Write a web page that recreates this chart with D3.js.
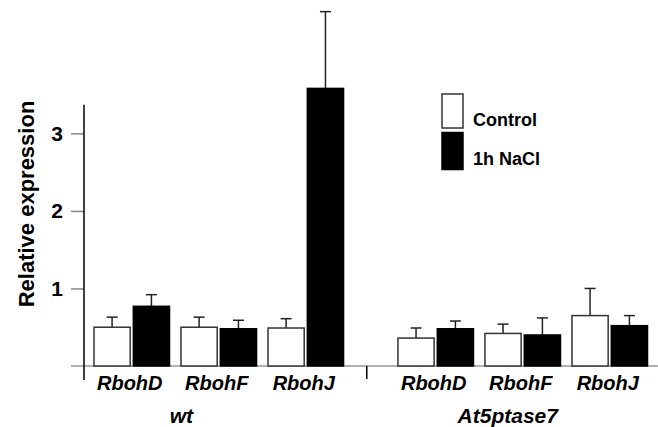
<!DOCTYPE html>
<html>
<head>
<meta charset="utf-8">
<script src="https://cdn.jsdelivr.net/npm/d3@7"></script>
<style>
  body { margin: 0; background: #fff; }
  text { font-family: "Liberation Sans", Arial, sans-serif; font-weight: bold; }
</style>
</head>
<body>
<svg id="chart" width="658" height="427"></svg>
<script>
// data
const genotypes = ["wt", "At5ptase7"];
const genes = ["RbohD", "RbohF", "RbohJ"];
const treatments = ["Control", "1h NaCl"];

const wtControl     = [0.50, 0.50, 0.49];
const wtControlErr  = [0.13, 0.13, 0.12];
const wtNaCl        = [0.77, 0.48, 3.58];
const wtNaClErr     = [0.15, 0.11, 0.99];
const at5Control    = [0.36, 0.42, 0.65];
const at5ControlErr = [0.13, 0.12, 0.35];
const at5NaCl       = [0.48, 0.40, 0.52];
const at5NaClErr    = [0.10, 0.22, 0.13];

const yTicks = [1, 2, 3];

// table for drawing
const means = { wt: [wtControl, wtNaCl], At5ptase7: [at5Control, at5NaCl] };
const errs  = { wt: [wtControlErr, wtNaClErr], At5ptase7: [at5ControlErr, at5NaClErr] };
const rows = [];
genotypes.forEach(g => {
  genes.forEach((gene, i) => {
    treatments.forEach((t, j) => {
      rows.push({ geno: g, gene: gene, treat: t, mean: means[g][j][i], err: errs[g][j][i] });
    });
  });
});

const svg = d3.select("#chart");

// scales
const y = d3.scaleLinear().domain([0, 4.72]).range([366, 0]);

const x0 = d3.scaleBand().domain(genotypes).range([94, 647.5]).paddingInner(0.179);
const x1 = d3.scaleBand().domain(genes).range([0, x0.bandwidth()]).paddingInner(0.132);
const x2 = d3.scaleBand().domain(treatments).range([0, x1.bandwidth()]).paddingInner(0.08);

const color = d3.scaleOrdinal().domain(treatments).range(["#fff", "#000"]);

// baseline
svg.append("line")
  .attr("x1", 71).attr("x2", 658)
  .attr("y1", y(0)).attr("y2", y(0))
  .attr("stroke", "#999").attr("stroke-width", 1.5);

// y axis
const yAxis = svg.append("g")
  .attr("transform", "translate(84,0)")
  .call(d3.axisLeft(y).tickValues(yTicks).tickSize(13).tickPadding(8).tickFormat(d3.format("d")));
yAxis.select(".domain").remove();
yAxis.selectAll(".tick line").attr("stroke", "#888").attr("stroke-width", 1.5);
yAxis.selectAll(".tick text")
  .attr("fill", "#000")
  .style("font-size", "21px")
  .style("font-family", "Liberation Sans, Arial, sans-serif")
  .style("font-weight", "bold");

svg.append("line")
  .attr("x1", 84).attr("x2", 84)
  .attr("y1", y(3.37)).attr("y2", y(0) + 14)
  .attr("stroke", "#000").attr("stroke-width", 1.5);

// separator tick between genotypes
const sepX = (x0("wt") + x0.bandwidth() + x0("At5ptase7")) / 2 - 4;
svg.append("line")
  .attr("x1", sepX).attr("x2", sepX)
  .attr("y1", y(0)).attr("y2", y(0) + 13)
  .attr("stroke", "#000").attr("stroke-width", 1.5);

svg.append("text")
  .attr("transform", "translate(34,204) rotate(-90)")
  .attr("text-anchor", "middle")
  .style("font-size", "22px")
  .text("Relative expression");

const barX = d => x0(d.geno) + x1(d.gene) + x2(d.treat);

// error bars
const eb = svg.append("g").attr("stroke", "#222").attr("stroke-width", 1.5);
eb.selectAll("line.stem")
  .data(rows)
  .join("line")
    .attr("class", "stem")
    .attr("x1", d => barX(d) + x2.bandwidth() / 2)
    .attr("x2", d => barX(d) + x2.bandwidth() / 2)
    .attr("y1", d => y(d.mean))
    .attr("y2", d => y(d.mean + d.err));
eb.selectAll("line.cap")
  .data(rows)
  .join("line")
    .attr("class", "cap")
    .attr("x1", d => barX(d) + x2.bandwidth() / 2 - 5.5)
    .attr("x2", d => barX(d) + x2.bandwidth() / 2 + 5.5)
    .attr("y1", d => y(d.mean + d.err))
    .attr("y2", d => y(d.mean + d.err));

// bars
svg.append("g").selectAll("rect")
  .data(rows)
  .join("rect")
    .attr("x", d => barX(d))
    .attr("y", d => y(d.mean))
    .attr("width", x2.bandwidth())
    .attr("height", d => y(0) - y(d.mean))
    .attr("fill", d => color(d.treat))
    .attr("stroke", d => d.treat === "Control" ? "#333" : "#000")
    .attr("stroke-width", 1.5);

// gene labels
genotypes.forEach(g => {
  svg.append("g").selectAll("text")
    .data(genes)
    .join("text")
      .attr("x", d => x0(g) + x1(d) + x1.bandwidth() / 2 - 2)
      .attr("y", 390)
      .attr("text-anchor", "middle")
      .style("font-size", "20px")
      .style("font-style", "italic")
      .text(d => d);
});

// genotype labels
const genoOffset = { wt: 0.35, At5ptase7: 0.44 };
svg.append("g").selectAll("text")
  .data(genotypes)
  .join("text")
    .attr("x", d => x0(d) + x0.bandwidth() * genoOffset[d])
    .attr("y", 423)
    .attr("text-anchor", "middle")
    .style("font-size", "21px")
    .style("font-style", "italic")
    .text(d => d);

// legend
const legend = svg.append("g").attr("transform", "translate(442,94)");
legend.selectAll("rect")
  .data(treatments)
  .join("rect")
    .attr("x", 0)
    .attr("y", (d, i) => i * 38.5)
    .attr("width", 21)
    .attr("height", (d, i) => i === 0 ? 34 : 37)
    .attr("fill", d => color(d))
    .attr("stroke", d => d === "Control" ? "#333" : "#000")
    .attr("stroke-width", 1.5);
legend.selectAll("text")
  .data(treatments)
  .join("text")
    .attr("x", 31)
    .attr("y", (d, i) => 32 + i * 39)
    .style("font-size", "18px")
    .text(d => d);
</script>
</body>
</html>
